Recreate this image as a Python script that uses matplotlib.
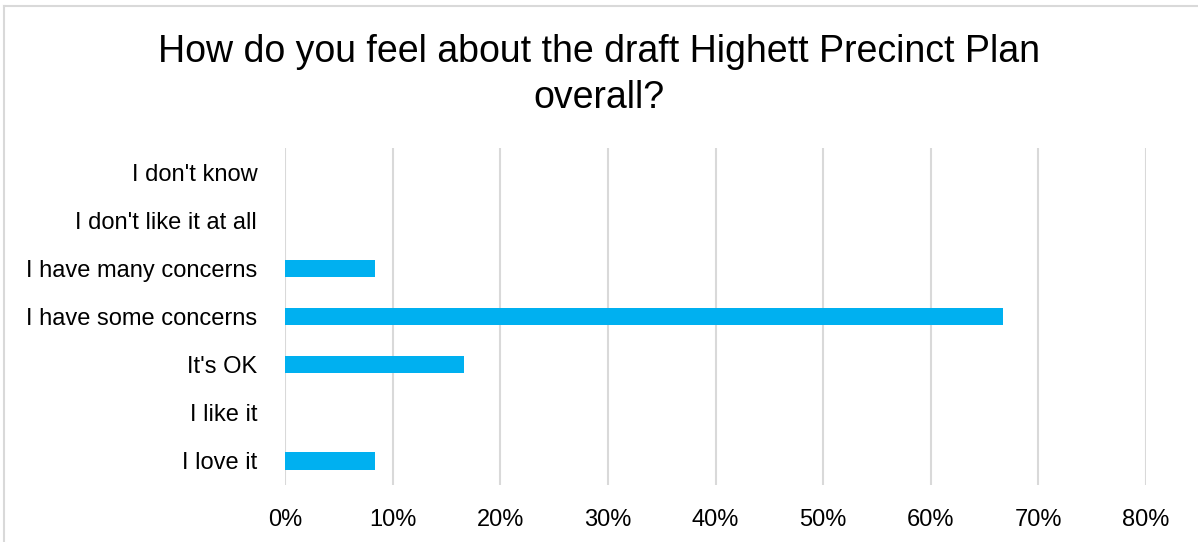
import matplotlib

matplotlib.use("Agg")
import matplotlib.pyplot as plt
from matplotlib.lines import Line2D
from matplotlib.ticker import FuncFormatter

# Survey responses, share of respondents (bottom to top on the chart)
responses = [
    "I love it",
    "I like it",
    "It's OK",
    "I have some concerns",
    "I have many concerns",
    "I don't like it at all",
    "I don't know",
]
shares = [8.33, 0.0, 16.67, 66.67, 8.33, 0.0, 0.0]
x_ticks = [0, 10, 20, 30, 40, 50, 60, 70, 80]

BAR_BLUE = "#00b0f0"
GRID_GREY = "#d9d9d9"

plt.rcParams["font.family"] = ["Liberation Sans", "DejaVu Sans"]

fig = plt.figure(figsize=(11.98, 5.42), dpi=100)
ax = fig.add_axes([285 / 1198, 1 - 485 / 542, (1146 - 285) / 1198, (485 - 148) / 542])

y = list(range(len(responses)))
ax.barh(y, shares, height=0.36, color=BAR_BLUE, zorder=3)

ax.set_xlim(0, 80)
ax.set_ylim(-0.5, len(responses) - 0.5)
ax.set_xticks(x_ticks)
ax.xaxis.set_major_formatter(FuncFormatter(lambda v, _: f"{v:.0f}%"))
ax.set_yticks(y)
ax.set_yticklabels(responses)
ax.tick_params(axis="both", length=0, labelsize=17, colors="#000000")
ax.tick_params(axis="y", pad=20)
ax.tick_params(axis="x", pad=17)
ax.grid(axis="x", color=GRID_GREY, lw=1.5, zorder=0)
for side in ax.spines.values():
    side.set_visible(False)

fig.text(0.5, 1 - 75 / 542,
         "How do you feel about the draft Highett Precinct Plan\noverall?",
         ha="center", va="center", fontsize=27, linespacing=1.33)

# light chart-area frame
fig.add_artist(Line2D([4 / 1198, 1197 / 1198], [1 - 6 / 542, 1 - 6 / 542],
                      color=GRID_GREY, lw=1.5, transform=fig.transFigure))
fig.add_artist(Line2D([4 / 1198, 4 / 1198], [0, 1 - 6 / 542],
                      color=GRID_GREY, lw=1.5, transform=fig.transFigure))

fig.savefig("out.png", dpi=100)
